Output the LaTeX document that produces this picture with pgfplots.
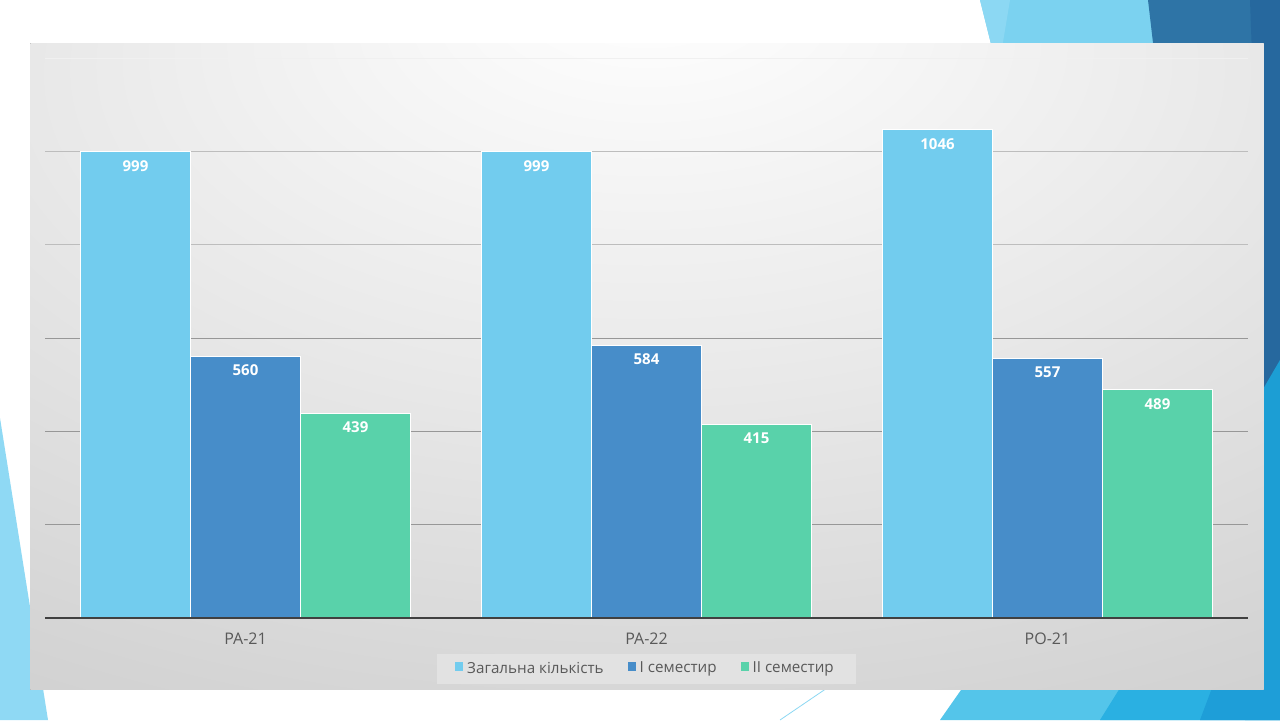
\documentclass[border=0pt]{standalone}
\usepackage{fontspec}
\setmainfont{Open Sans}
\usepackage{pgfplots}
\pgfplotsset{compat=1.18}
\definecolor{cLight}{HTML}{72CCEE}
\definecolor{cDark}{HTML}{478DC9}
\definecolor{cGreen}{HTML}{59D2AA}
\definecolor{tickc}{HTML}{595959}
\definecolor{gridc}{HTML}{979797}
\definecolor{gridl}{HTML}{BDBDBD}
\definecolor{bgdark}{HTML}{C6C6C6}
\definecolor{bgmid}{HTML}{D4D4D4}
\definecolor{bglight}{HTML}{E8E8E8}
\definecolor{legfill}{HTML}{E2E2E2}
\definecolor{decoA}{HTML}{8FD9F4}
\pgfdeclareradialshading{bgshade}{\pgfpoint{0bp}{30bp}}{color(0bp)=(white); color(6bp)=(white!98!black); color(25bp)=(bglight); color(45bp)=(bgmid); color(62bp)=(bgdark); color(100bp)=(bgdark)}
\begin{document}
\begin{tikzpicture}
\useasboundingbox (0,0) rectangle (640pt,360pt);
\begin{scope}[yshift=360pt, x=0.5pt, y=-0.5pt]
  \clip (0,0) rectangle (1280,720);
  \fill[white] (0,0) rectangle (1280,720);
  % left triangle
  \fill[decoA] (0,418) -- (48,720) -- (0,720) -- cycle;
  % top right light blue
  \fill[color={rgb,255:red,123;green,210;blue,240}] (980,0) -- (1153,0) -- (1160,60) -- (995,60) -- cycle;
  \fill[color={rgb,255:red,140;green,216;blue,243}] (980,0) -- (1010,0) -- (1000,60) -- (995,60) -- cycle;
  % top right dark blue
  \fill[color={rgb,255:red,46;green,116;blue,166}] (1148,0) -- (1280,0) -- (1280,365) -- (1264,400) -- (1155,60) -- cycle;
  \fill[color={rgb,255:red,38;green,104;blue,158}] (1250,0) -- (1280,0) -- (1280,365) -- (1264,390) -- cycle;
  % right bright blue
  \fill[color={rgb,255:red,28;green,158;blue,212}] (1280,360) -- (1245,420) -- (1245,720) -- (1280,720) -- cycle;
  % bottom right
  \fill[color={rgb,255:red,84;green,197;blue,234}] (940,720) -- (968,680) -- (1280,680) -- (1280,720) -- cycle;
  \fill[color={rgb,255:red,42;green,176;blue,226}] (1100,720) -- (1125,680) -- (1280,680) -- (1280,720) -- cycle;
  \fill[color={rgb,255:red,30;green,158;blue,216}] (1200,720) -- (1215,680) -- (1280,680) -- (1280,720) -- cycle;
  \draw[color={rgb,255:red,140;green,216;blue,243}, line width=0.4pt] (780,720) -- (830,686);
  % chart background
  \fill[color=gray!60] (30,43) rectangle (1264,690);
  \shade[shading=bgshade] (30.5,43.5) rectangle (1263.5,689.5);
\end{scope}
\begin{axis}[
  at={(22.5pt,51pt)}, anchor=south west,
  scale only axis, width=601.5pt, height=280pt,
  xmin=-0.5, xmax=2.5, ymin=0, ymax=1200,
  xtick={0,1,2}, xticklabels={РА-21,РА-22,РО-21},
  ytick={200,400,600}, yticklabels={},
  extra y ticks={800,1000}, extra y tick labels={},
  extra y tick style={grid style={gridl, line width=0.5pt}},
  major tick length=0pt,
  ymajorgrids, grid style={gridc, line width=0.5pt},
  axis line style={draw=none},
  xticklabel style={font=\fontsize{8}{9}\selectfont, text=tickc, yshift=-4pt},
  ybar=0pt, bar width=55pt,
  every axis plot/.append style={draw=white, line width=0.4pt},
  /pgf/number format/.cd, 1000 sep={}, assume math mode=true, /pgfplots/.cd,
  nodes near coords,
  every node near coord/.append style={font=\fontsize{7.5}{9}\selectfont\bfseries, text=white, anchor=north, inner sep=0pt, yshift=-4pt},
  legend style={at={(0.5,-0.091)}, anchor=center, legend columns=3, draw=none, fill=legfill,
    font=\fontsize{7.6}{9}\selectfont, text=tickc, inner xsep=9pt, inner ysep=2pt,
    /tikz/every even column/.append style={column sep=10pt}},
  legend image code/.code={\fill[#1,draw=none] (0.3pt,-0.9pt) rectangle (4.3pt,3.3pt);},
]
\addplot[fill=cLight] coordinates {(0,999) (1,999) (2,1046)};
\addplot[fill=cDark] coordinates {(0,560) (1,584) (2,557)};
\addplot[fill=cGreen] coordinates {(0,439) (1,415) (2,489)};
\legend{Загальна кількість, І семестир, ІІ семестир}
\draw[color={rgb,255:red,64;green,64;blue,64}, line width=1pt] (rel axis cs:0,0) -- (rel axis cs:1,0);
\draw[color=white!88!gray, line width=0.5pt] (rel axis cs:0,1) -- (rel axis cs:1,1);
\end{axis}
\end{tikzpicture}
\end{document}
